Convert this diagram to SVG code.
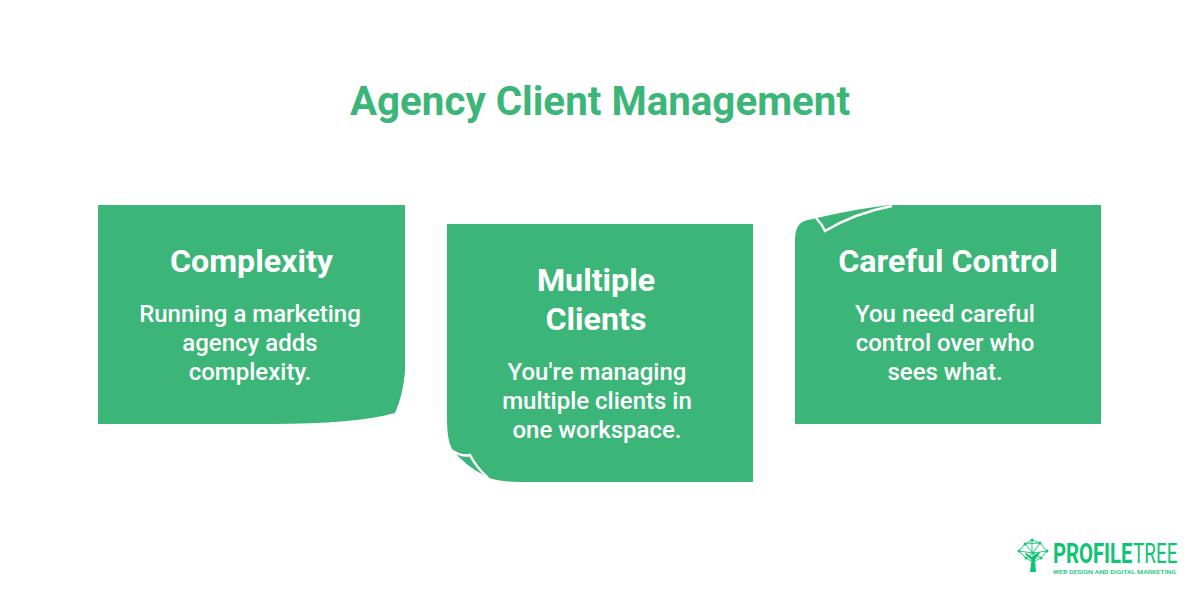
<svg xmlns="http://www.w3.org/2000/svg" width="1200" height="600" viewBox="0 0 1200 600">
<style>
text{font-family:Roboto,"Liberation Sans",sans-serif;text-anchor:middle}
.card{fill:#3bb678}
.fold{fill:none;stroke:#fff;stroke-width:2.4;stroke-linejoin:miter}
.h{font-size:32.2px;font-weight:700;fill:#fff}
.b{font-size:24px;font-weight:500;fill:#fff}
.title{font-size:40.3px;font-weight:700;fill:#3bb678}
.logo{fill:#0fc474}
.ls{text-anchor:start}
.tl{stroke:#0fc474;stroke-width:.9;fill:none}
</style>
<rect width="1200" height="600" fill="#fff"/>
<text class="title" x="600" y="115">Agency Client Management</text>
<g id="connectors"/>
<g id="node-complexity">
<path class="card" d="M98 205H405V372Q403 395 395 413Q355 424 270 424H98Z"/>
<text class="h" x="251.500" y="272">Complexity</text>
<text class="b" x="250" y="322">Running a marketing</text>
<text class="b" x="250" y="351">agency adds</text>
<text class="b" x="250" y="380">complexity.</text>
</g>
<g id="node-clients">
<path class="card" d="M447 224H753V482H520Q498 482 487 477Q465 466 452 449Q447 440 447 420Z"/>
<path class="fold" d="M453 451Q462 457 470 455Q476 467 488 478"/>
<text class="h" x="596" y="291">Multiple</text>
<text class="h" x="596" y="330">Clients</text>
<text class="b" x="597" y="380">You're managing</text>
<text class="b" x="597" y="409">multiple clients in</text>
<text class="b" x="597" y="438">one workspace.</text>
</g>
<g id="node-control">
<path class="card" d="M795 424V240Q795 222 808 220Q813 219 817 218Q855 209 890 205H1101V424Z"/>
<path class="fold" d="M816 218Q822 224 825 231Q855 213 892 206"/>
<text class="h" x="948" y="272">Careful Control</text>
<text class="b" x="945" y="322">You need careful</text>
<text class="b" x="945" y="351">control over who</text>
<text class="b" x="945" y="380">sees what.</text>
</g>
<g id="logo">
<path class="tl" d="M1019 551L1025 544L1032 540L1040 543L1047 551L1041 558L1033 553L1026 558ZM1025 544L1033 553L1040 543M1032 540V553M1019 551L1033 553L1047 551M1025 544L1040 543M1026 558L1033 562M1041 558L1033 562M1033 553V562"/>
<path class="logo" d="M1030 572L1031.500 560L1025 554L1026 553L1032 557L1039 552L1040 553L1035 560L1036 572Z"/>
<g class="logo"><circle cx="1019" cy="551" r="1.500"/><circle cx="1025" cy="544" r="1.500"/><circle cx="1032" cy="540" r="1.500"/><circle cx="1040" cy="543" r="1.500"/><circle cx="1047" cy="551" r="1.500"/><circle cx="1041" cy="558" r="1.500"/><circle cx="1026" cy="558" r="1.500"/><circle cx="1033" cy="553" r="1.500"/></g>
<text class="logo ls" transform="translate(1053 563) scale(.75 1)" font-size="27" font-weight="700">PROFILE</text>
<text class="logo ls" transform="translate(1133 563) scale(.7 1)" font-size="27" font-weight="400">TREE</text>
<text class="logo ls" x="1053" y="574" font-size="6.200" font-weight="500" textLength="123" lengthAdjust="spacingAndGlyphs">WEB DESIGN AND DIGITAL MARKETING</text>
</g>
</svg>
